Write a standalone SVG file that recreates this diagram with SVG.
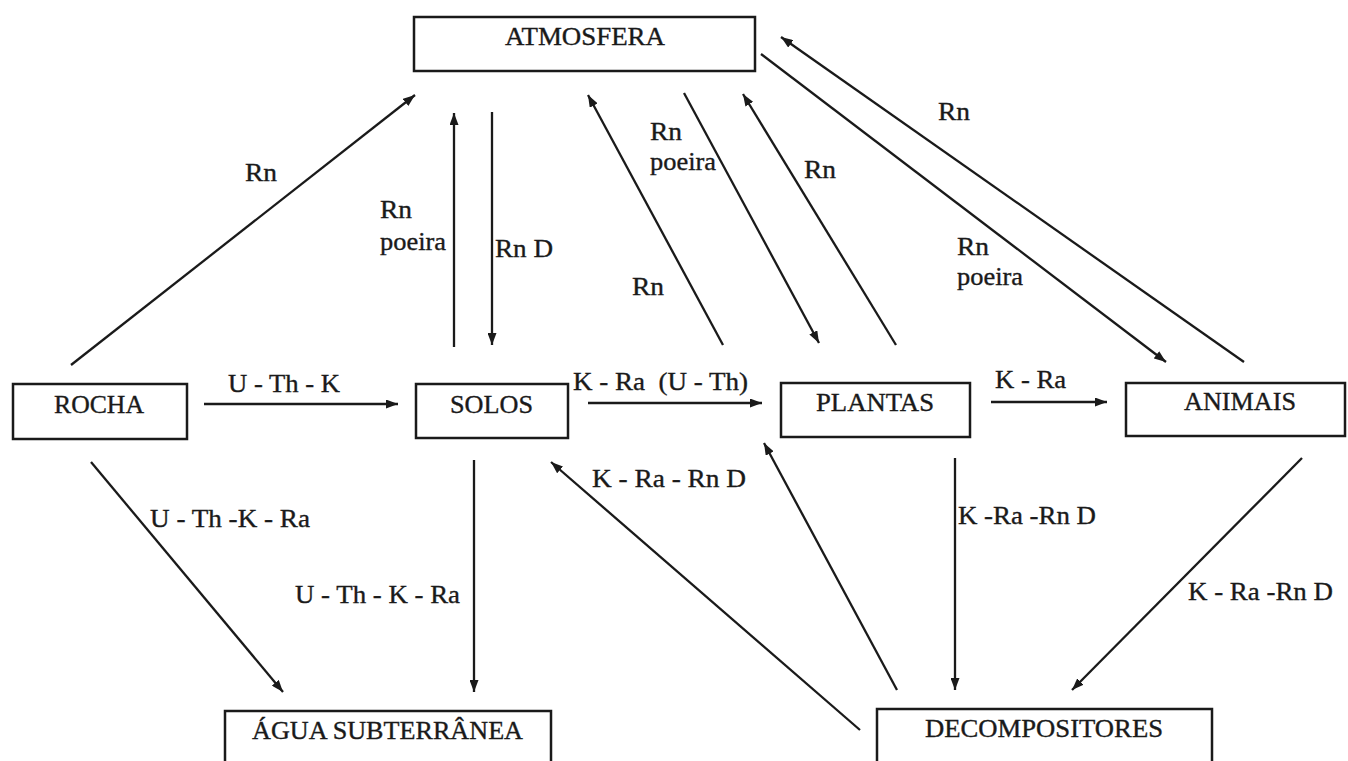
<svg xmlns="http://www.w3.org/2000/svg" width="1348" height="761" viewBox="0 0 1348 761">
<defs>
<style>
.box{fill:#fff;stroke:#1a1a1a;stroke-width:2.5}
.t{font-family:"Liberation Serif","Times New Roman",serif;font-size:25px;fill:#1a1a1a;stroke:#1a1a1a;stroke-width:0.35}
.c line{stroke:#1a1a1a;stroke-width:2.3;marker-end:url(#ah)}
</style>
<marker id="ah" markerUnits="userSpaceOnUse" markerWidth="12" markerHeight="9" refX="12" refY="4.5" orient="auto">
<path d="M0,0 L12,4.5 L0,9 z" fill="#1a1a1a"/>
</marker>
</defs>
<rect width="1348" height="761" fill="#fff"/>

<g id="atmosfera"><rect class="box" x="414" y="17" width="341" height="54"/><text class="t" x="505" y="45" textLength="160" lengthAdjust="spacingAndGlyphs">ATMOSFERA</text></g>
<g id="rocha"><rect class="box" x="13" y="384" width="174" height="55"/><text class="t" x="54" y="413" textLength="90" lengthAdjust="spacingAndGlyphs">ROCHA</text></g>
<g id="solos"><rect class="box" x="416" y="384" width="152" height="54"/><text class="t" x="450" y="413" textLength="83" lengthAdjust="spacingAndGlyphs">SOLOS</text></g>
<g id="plantas"><rect class="box" x="781" y="383" width="189" height="54"/><text class="t" x="816" y="411" textLength="118" lengthAdjust="spacingAndGlyphs">PLANTAS</text></g>
<g id="animais"><rect class="box" x="1126" y="383" width="219" height="53"/><text class="t" x="1184" y="410" textLength="112" lengthAdjust="spacingAndGlyphs">ANIMAIS</text></g>
<g id="agua"><rect class="box" x="225" y="711" width="326" height="70"/><text class="t" x="252" y="739" textLength="271" lengthAdjust="spacingAndGlyphs">ÁGUA SUBTERRÂNEA</text></g>
<g id="decompositores"><rect class="box" x="877" y="709" width="335" height="70"/><text class="t" x="925" y="737" textLength="238" lengthAdjust="spacingAndGlyphs">DECOMPOSITORES</text></g>

<g id="connectors" class="c">
<line x1="71" y1="365" x2="415" y2="95"/>
<line x1="454" y1="347" x2="454" y2="113"/>
<line x1="492" y1="112" x2="492" y2="345"/>
<line x1="723" y1="345" x2="588" y2="95"/>
<line x1="684" y1="93" x2="819" y2="343"/>
<line x1="896" y1="345" x2="743" y2="94"/>
<line x1="761" y1="54" x2="1166" y2="362"/>
<line x1="1244" y1="362" x2="781" y2="37"/>
<line x1="204" y1="404" x2="398" y2="404"/>
<line x1="588" y1="403" x2="762" y2="403"/>
<line x1="991" y1="402" x2="1107" y2="402"/>
<line x1="91" y1="462" x2="283" y2="692"/>
<line x1="474" y1="460" x2="474" y2="692"/>
<line x1="860" y1="730" x2="551" y2="462"/>
<line x1="897" y1="690" x2="764" y2="443"/>
<line x1="955" y1="458" x2="955" y2="690"/>
<line x1="1302" y1="458" x2="1072" y2="690"/>
</g>

<g id="labels">
<text class="t" x="245" y="181" textLength="32" lengthAdjust="spacingAndGlyphs">Rn</text>
<text class="t" x="380" y="218" textLength="32" lengthAdjust="spacingAndGlyphs">Rn</text>
<text class="t" x="380" y="250" textLength="66" lengthAdjust="spacingAndGlyphs">poeira</text>
<text class="t" x="495" y="257" textLength="58" lengthAdjust="spacingAndGlyphs">Rn D</text>
<text class="t" x="632" y="295" textLength="32" lengthAdjust="spacingAndGlyphs">Rn</text>
<text class="t" x="650" y="140" textLength="32" lengthAdjust="spacingAndGlyphs">Rn</text>
<text class="t" x="650" y="170" textLength="66" lengthAdjust="spacingAndGlyphs">poeira</text>
<text class="t" x="804" y="178" textLength="32" lengthAdjust="spacingAndGlyphs">Rn</text>
<text class="t" x="938" y="120" textLength="32" lengthAdjust="spacingAndGlyphs">Rn</text>
<text class="t" x="957" y="255" textLength="32" lengthAdjust="spacingAndGlyphs">Rn</text>
<text class="t" x="957" y="285" textLength="66" lengthAdjust="spacingAndGlyphs">poeira</text>
<text class="t" x="228" y="392" textLength="112" lengthAdjust="spacingAndGlyphs">U - Th - K</text>
<text class="t" x="573" y="390" textLength="175" lengthAdjust="spacingAndGlyphs" xml:space="preserve">K - Ra  (U - Th)</text>
<text class="t" x="995" y="388" textLength="71" lengthAdjust="spacingAndGlyphs">K - Ra</text>
<text class="t" x="150" y="527" textLength="160" lengthAdjust="spacingAndGlyphs">U - Th -K - Ra</text>
<text class="t" x="295" y="603" textLength="165" lengthAdjust="spacingAndGlyphs">U - Th - K - Ra</text>
<text class="t" x="592" y="487" textLength="154" lengthAdjust="spacingAndGlyphs">K - Ra - Rn D</text>
<text class="t" x="958" y="524" textLength="138" lengthAdjust="spacingAndGlyphs">K -Ra -Rn D</text>
<text class="t" x="1188" y="600" textLength="145" lengthAdjust="spacingAndGlyphs">K - Ra -Rn D</text>
</g>
</svg>
